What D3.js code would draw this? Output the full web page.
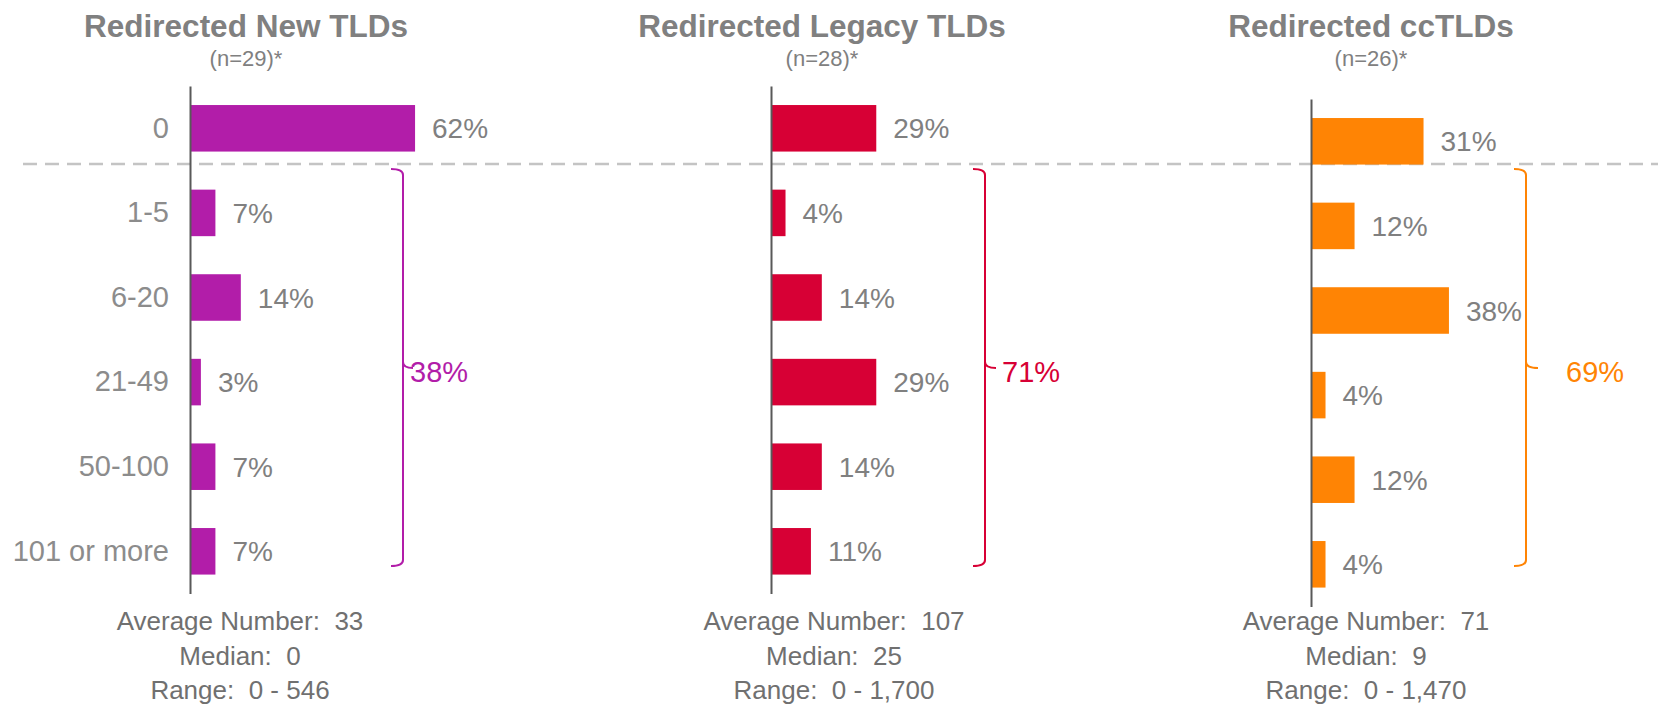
<!DOCTYPE html>
<html>
<head>
<meta charset="utf-8">
<script src="https://cdn.jsdelivr.net/npm/d3@7"></script>
<style>
  body { margin: 0; background: #fff; }
  svg { display: block; font-family: "Liberation Sans", Arial, sans-serif; }
  .stats { white-space: pre; }
</style>
</head>
<body>
<div class="graph"></div>
<script>
// values
var categories = ["0", "1-5", "6-20", "21-49", "50-100", "101 or more"];
var newTlds = [62, 7, 14, 3, 7, 7];
var legacyTlds = [29, 4, 14, 29, 14, 11];
var ccTlds = [31, 12, 38, 4, 12, 4];

var titles = ["Redirected New TLDs", "Redirected Legacy TLDs", "Redirected ccTLDs"];
var sampleSizes = [29, 28, 26];
var bracketTotals = [38, 71, 69];
var averages = ["33", "107", "71"];
var medians = ["0", "25", "9"];
var ranges = ["0 - 546", "0 - 1,700", "0 - 1,470"];
var colors = ["#b21da9", "#d70035", "#ff8404"];

var loadChart = function () {
    const WIDTH = 1658;
    const HEIGHT = 705;
    const BAND_SPAN = 507.6;
    const DASH_Y = 164;

    // layout of the three panels
    var panels = [
        {axisX: 190, top: 86, titleX: 246, statsX: 240, braceX: 403, tickLen: 10, labelX: 410},
        {axisX: 771, top: 86, titleX: 822, statsX: 834, braceX: 985, tickLen: 11, labelX: 1002},
        {axisX: 1311, top: 99, titleX: 1371, statsX: 1366, braceX: 1526, tickLen: 12, labelX: 1566}
    ];
    var series = [newTlds, legacyTlds, ccTlds];

    var xScale = d3.scaleLinear().domain([0, 100]).range([0, 363]);

    var svg = d3.select(".graph").append("svg")
        .attr("width", WIDTH)
        .attr("height", HEIGHT);

    // dashed separator between "0" and the rest
    svg.append("line")
        .attr("x1", 23).attr("x2", WIDTH)
        .attr("y1", DASH_Y).attr("y2", DASH_Y)
        .style("stroke", "#c4c4c4")
        .style("stroke-width", 2.5)
        .style("stroke-dasharray", "14,8");

    panels.forEach(function (p, i) {
        var yScale = d3.scaleBand()
            .domain(categories)
            .range([p.top, p.top + BAND_SPAN])
            .paddingInner(0.45)
            .paddingOuter(0.225);

        var g = svg.append("g")
            .attr("transform", "translate(" + p.axisX + ",0)");

        var data = categories.map(function (c, k) { return {cat: c, v: series[i][k]}; });

        g.selectAll("rect.bar")
            .data(data)
            .enter().append("rect")
            .attr("class", "bar")
            .attr("x", 0)
            .attr("y", function (d) { return yScale(d.cat); })
            .attr("width", function (d) { return xScale(d.v); })
            .attr("height", yScale.bandwidth())
            .style("fill", colors[i]);

        g.selectAll("text.val")
            .data(data)
            .enter().append("text")
            .attr("class", "val")
            .attr("x", function (d) { return xScale(d.v) + 17; })
            .attr("y", function (d) { return yScale(d.cat) + yScale.bandwidth() / 2; })
            .attr("dy", "0.36em")
            .style("font-size", "28px")
            .style("fill", "#808080")
            .text(function (d) { return d.v + "%"; });

        var yAxis = d3.axisLeft(yScale).tickSize(0).tickSizeOuter(0).tickPadding(21);
        if (i > 0) yAxis.tickFormat("");
        var ax = g.append("g").attr("class", "y axis").call(yAxis);
        ax.select(".domain").style("stroke", "#595959").style("stroke-width", 2);
        ax.selectAll("text")
            .style("font-size", "29px")
            .style("font-family", "Liberation Sans, Arial, sans-serif")
            .style("fill", "#8c8c8c");

        // titles
        svg.append("text")
            .attr("x", p.titleX).attr("y", 37)
            .attr("text-anchor", "middle")
            .style("font-size", "31.5px")
            .style("font-weight", "bold")
            .style("fill", "#808080")
            .text(titles[i]);

        svg.append("text")
            .attr("x", p.titleX).attr("y", 66)
            .attr("text-anchor", "middle")
            .style("font-size", "22px")
            .style("fill", "#808080")
            .text("(n=" + sampleSizes[i] + ")*");

        // bracket around the non-zero rows
        var bx = p.braceX, top = 169, bot = 566, mid = 368, r = 6;
        var path = "M" + (bx - 12) + "," + top +
            " Q" + bx + "," + top + " " + bx + "," + (top + r) +
            " L" + bx + "," + (mid - r) +
            " Q" + bx + "," + mid + " " + (bx + p.tickLen) + "," + mid +
            " M" + bx + "," + (mid - r) +
            " Q" + bx + "," + mid + " " + bx + "," + (mid + r) +
            " L" + bx + "," + (bot - r) +
            " Q" + bx + "," + bot + " " + (bx - 12) + "," + bot;
        svg.append("path")
            .attr("d", path)
            .style("fill", "none")
            .style("stroke", colors[i])
            .style("stroke-width", 2);

        svg.append("text")
            .attr("x", p.labelX).attr("y", mid + 4)
            .attr("dy", "0.36em")
            .style("font-size", "29px")
            .style("fill", colors[i])
            .text(bracketTotals[i] + "%");

        // summary numbers under each panel
        var lines = ["Average Number:  " + averages[i], "Median:  " + medians[i], "Range:  " + ranges[i]];
        svg.selectAll("text.stats" + i)
            .data(lines)
            .enter().append("text")
            .attr("class", "stats stats" + i)
            .attr("x", p.statsX)
            .attr("y", function (d, k) { return 630 + k * 34.5; })
            .attr("text-anchor", "middle")
            .style("font-size", "26px")
            .style("fill", "#707070")
            .text(function (d) { return d; });
    });
};

window.onload = loadChart;
</script>
</body>
</html>
